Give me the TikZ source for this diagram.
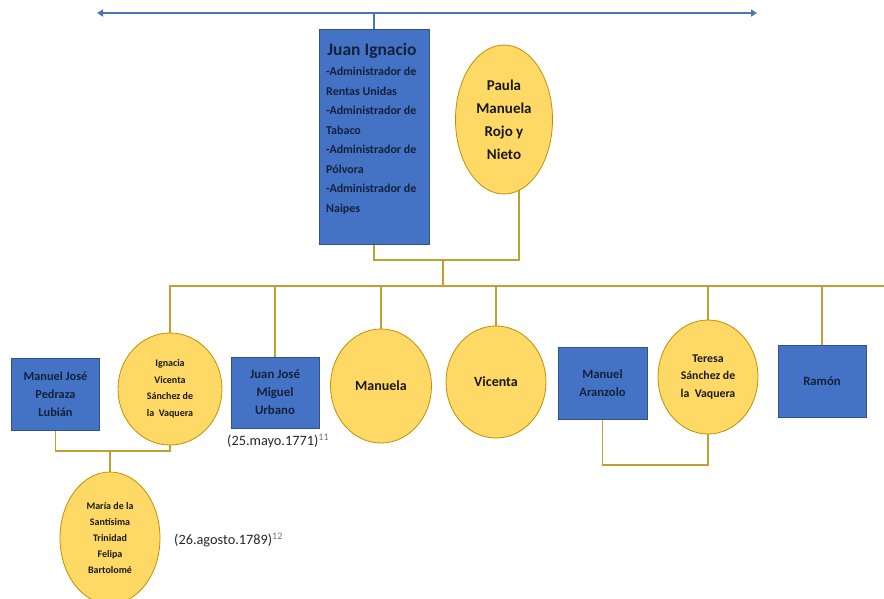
\documentclass[tikz,border=0pt]{standalone}
\usepackage{fontspec}
\setmainfont{Carlito}
\usetikzlibrary{shapes.geometric,arrows.meta,backgrounds}
\definecolor{bfill}{HTML}{4472C4}
\definecolor{bdraw}{HTML}{2F528F}
\definecolor{yfill}{HTML}{FFD966}
\definecolor{ydraw}{HTML}{BF9000}
\definecolor{conn}{HTML}{BFA030}
\definecolor{arrowc}{HTML}{4F73B8}
\definecolor{btext}{HTML}{14213D}
\tikzset{
  bbox/.style={rectangle, fill=bfill, draw=bdraw, line width=0.8pt, inner sep=0pt, text=btext, align=center, font=\bfseries},
  yell/.style={ellipse, fill=yfill, draw=ydraw, line width=0.8pt, inner sep=0pt, text=black!90, align=center, font=\bfseries},
  link/.style={draw=conn, line width=1.6pt},
  datel/.style={font=\fontsize{14.3}{16}\selectfont, text=black!85, inner sep=0pt}
}
\begin{document}
\begin{tikzpicture}[x=1pt,y=-1pt]
\useasboundingbox (0,0) rectangle (884,598);
% top arrow
\coordinate (al) at (97,13);
\coordinate (ar) at (757,13);
% parents
\node[bbox, minimum width=110pt, minimum height=215pt] (juan) at (374,136.5) {};
\coordinate (atop) at (juan.north |- al);
\node[anchor=north, inner sep=0pt, text=btext, font=\fontsize{17.5}{19}\selectfont\bfseries] (juant) at (372,43) {Juan Ignacio};
\node[anchor=north west, inner sep=0pt, align=left, text=btext, font=\fontsize{12}{19.5}\selectfont\bfseries] (juanl) at (326,67) {-Administrador de\\Rentas Unidas\\-Administrador de\\Tabaco\\-Administrador de\\Pólvora\\-Administrador de\\Naipes};
\node[yell, minimum width=97pt, minimum height=149pt, font=\fontsize{15}{23}\selectfont\bfseries] (paula) at (504,119.5) {Paula\\Manuela\\Rojo y\\Nieto};
% children
\node[bbox, minimum width=88pt, minimum height=72pt, font=\fontsize{12.3}{18}\selectfont\bfseries] (mjose) at (55.5,394) {Manuel José\\Pedraza\\Lubián};
\node[yell, minimum width=104pt, minimum height=112pt, font=\fontsize{10}{16.5}\selectfont\bfseries] (ignacia) at (170,389) {Ignacia\\Vicenta\\Sánchez de\\la~ Vaquera};
\node[bbox, minimum width=88pt, minimum height=71pt, font=\fontsize{12.8}{18}\selectfont\bfseries] (jjose) at (275,392.5) {Juan José\\Miguel\\Urbano};
\node[yell, minimum width=101pt, minimum height=114pt, font=\fontsize{14}{16}\selectfont\bfseries] (manuela) at (381,386) {Manuela};
\node[yell, minimum width=100pt, minimum height=112pt, font=\fontsize{14}{16}\selectfont\bfseries] (vicenta) at (496,382) {Vicenta};
\node[bbox, minimum width=89pt, minimum height=72pt, font=\fontsize{12.6}{18}\selectfont\bfseries] (aranz) at (602.5,383) {Manuel\\Aranzolo};
\node[yell, minimum width=100pt, minimum height=114pt, font=\fontsize{11.8}{17.5}\selectfont\bfseries] (teresa) at (708,377) {Teresa\\Sánchez de\\la~ Vaquera};
\node[bbox, minimum width=88pt, minimum height=72pt, font=\fontsize{12.7}{15}\selectfont\bfseries] (ramon) at (822,381) {Ramón};
\node[yell, minimum width=100pt, minimum height=132pt, font=\fontsize{10}{15.8}\selectfont\bfseries] (maria) at (110,538) {María de la\\Santísima\\Trinidad\\Felipa\\Bartolomé};
% dates
\node[datel, anchor=west] (d1) at (227,441) {(25.mayo.1771)\textsuperscript{\color{black!55}11}};
\node[datel, anchor=west] (d2) at (174,540) {(26.agosto.1789)\textsuperscript{\color{black!55}12}};
% junction coordinates
\coordinate (pj) at (443,260);
\coordinate (sb) at (443,286);
\coordinate (sbR) at (884,286);
\coordinate (mjb) at (110,451);
\coordinate (tb) at (660,465);
\begin{pgfonlayer}{background}
\draw[arrowc, line width=1.8pt, {Triangle[width=7pt,length=6pt]}-{Triangle[width=7pt,length=6pt]}] (al) -- (ar);
\draw[arrowc, line width=1.6pt] (atop) -- (juan.north);
\draw[link] (juan.south) |- (pj) -| ([xshift=15pt]paula.center);
\draw[link] (pj) -- (sb);
\draw[link] (ignacia.center) |- (sbR);
\draw[link] (jjose.north) -- (jjose.north |- sb);
\draw[link] (manuela.center) -- (manuela.center |- sb);
\draw[link] (vicenta.center) -- (vicenta.center |- sb);
\draw[link] (teresa.center) -- (teresa.center |- sb);
\draw[link] (ramon.north) -- (ramon.north |- sb);
\draw[link] (mjose.south) |- (mjb) -| (ignacia.center);
\draw[link] (mjb) -- (maria.center);
\draw[link] (aranz.south) |- (tb) -| (teresa.center);
\end{pgfonlayer}
\end{tikzpicture}
\end{document}
